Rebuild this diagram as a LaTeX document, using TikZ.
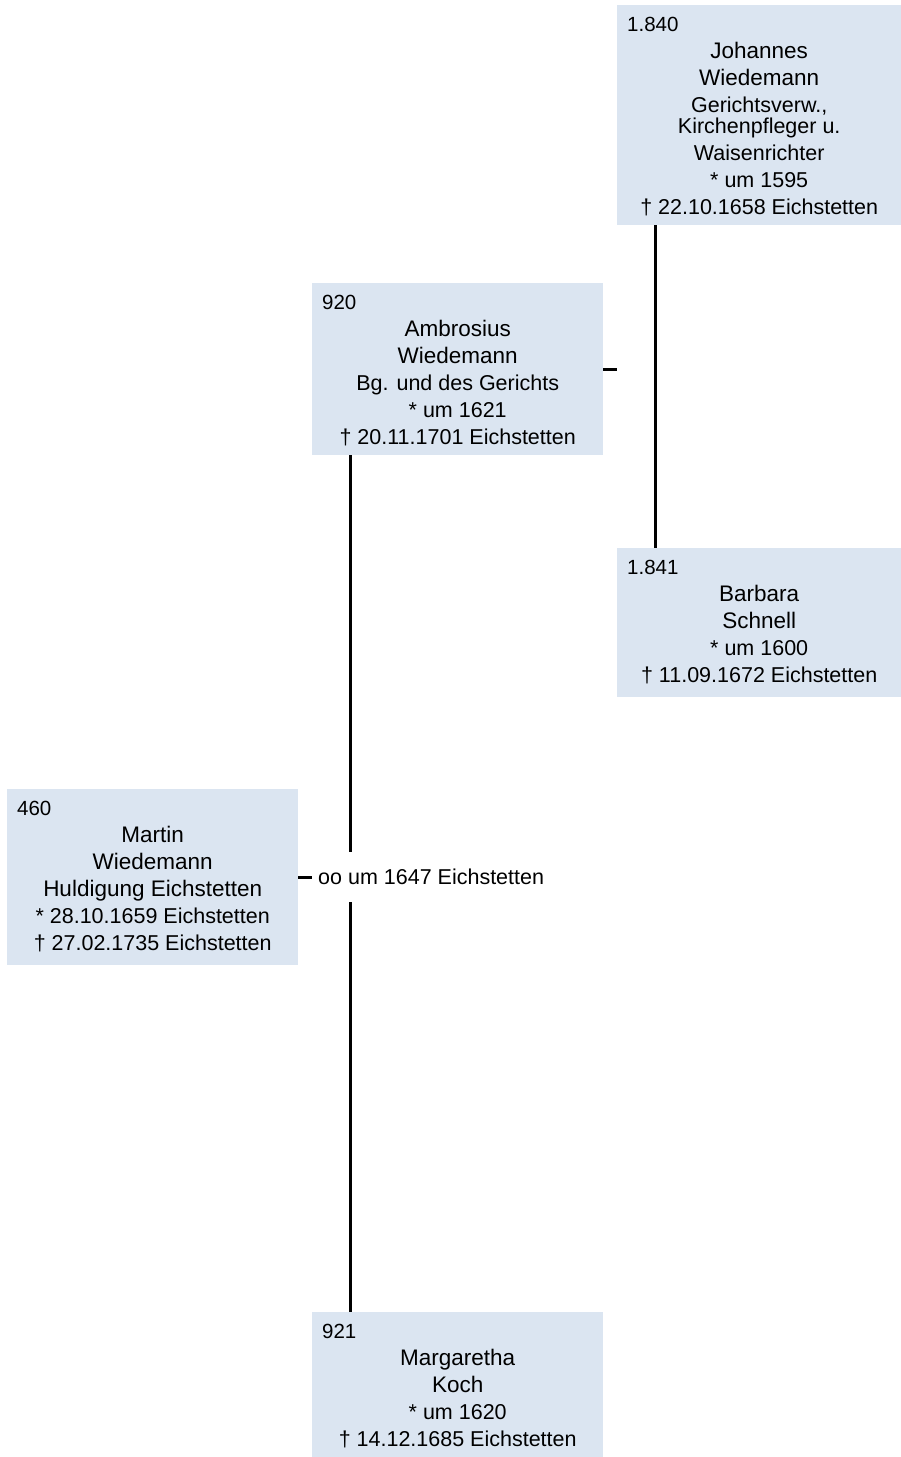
\documentclass[tikz,border=0pt]{standalone}
\usepackage{fontspec}
\setmainfont{Liberation Sans}
\usepackage{xcolor}
\usetikzlibrary{positioning, calc}
\definecolor{ahnenblau}{HTML}{DBE5F1}
\tikzset{ahne/.style={fill=ahnenblau, anchor=north west, inner sep=0pt},
         kennzahl/.style={anchor=base west, inner sep=0pt, font=\fontsize{20.5}{24}\selectfont},
         daten/.style={anchor=north, inner sep=0pt, align=center, font=\fontsize{21.5}{27}\selectfont},
         linie/.style={line width=3pt},
         heirat/.style={fill=white, inner xsep=0pt, minimum height=50pt, font=\fontsize{21.5}{24}\selectfont}
        }
\newcommand{\nam}[1]{{\fontsize{22.5}{27}\selectfont #1}}

\begin{document}
\begin{tikzpicture}[x=1pt,y=-1pt]
    \useasboundingbox (0,0) rectangle (901,1457);

    % Kaesten
    \node[ahne, minimum width=284pt, minimum height=220pt] (b1840) at (617,5) {};
    \node[ahne, minimum width=291pt, minimum height=172pt] (b920) at (312,283) {};
    \node[ahne, minimum width=284pt, minimum height=149pt] (b1841) at (617,548) {};
    \node[ahne, minimum width=291pt, minimum height=176pt] (b460) at (7,789) {};
    \node[ahne, minimum width=291pt, minimum height=145pt] (b921) at (312,1312) {};

    % Kennzahlen
    \node[kennzahl] (k1840) at ($(b1840.north west)+(10,26)$) {1.840};
    \node[kennzahl] (k920) at ($(b920.north west)+(10,26)$) {920};
    \node[kennzahl] (k1841) at ($(b1841.north west)+(10,26)$) {1.841};
    \node[kennzahl] (k460) at ($(b460.north west)+(10,26)$) {460};
    \node[kennzahl] (k921) at ($(b921.north west)+(10,26)$) {921};

    % Daten
    \node[daten] (t1840) at ($(b1840.north)+(0,34)$) {\strut\nam{Johannes}\\\nam{Wiedemann}\\Gerichtsverw.,\\[-6pt]Kirchenpfleger u.\\Waisenrichter\\* um 1595\\† 22.10.1658 Eichstetten};
    \node[daten] (t920) at ($(b920.north)+(0,34)$) {\strut\nam{Ambrosius}\\\nam{Wiedemann}\\Bg. und des Gerichts\\* um 1621\\† 20.11.1701 Eichstetten};
    \node[daten] (t1841) at ($(b1841.north)+(0,34)$) {\strut\nam{Barbara}\\\nam{Schnell}\\* um 1600\\† 11.09.1672 Eichstetten};
    \node[daten] (t460) at ($(b460.north)+(0,34)$) {\strut\nam{Martin}\\\nam{Wiedemann}\\\nam{Huldigung Eichstetten}\\* 28.10.1659 Eichstetten\\† 27.02.1735 Eichstetten};
    \node[daten] (t921) at ($(b921.north)+(0,34)$) {\strut\nam{Margaretha}\\\nam{Koch}\\* um 1620\\† 14.12.1685 Eichstetten};

    % Linien
    \draw[linie] ([xshift=38pt]b1840.south west) -- ([xshift=38pt]b1841.north west);
    \draw[linie] (b920.east) -- (b920.east -| b1841.west);
    \draw[linie] ([xshift=38pt]b920.south west) -- ([xshift=38pt]b921.north west);
    \coordinate (ehepunkt) at (b460.east -| b920.west);
    \draw[linie] (b460.east) -- (ehepunkt);
    \node[heirat, right=6pt of ehepunkt] (ehe) {oo um 1647 Eichstetten};

\end{tikzpicture}
\end{document}
